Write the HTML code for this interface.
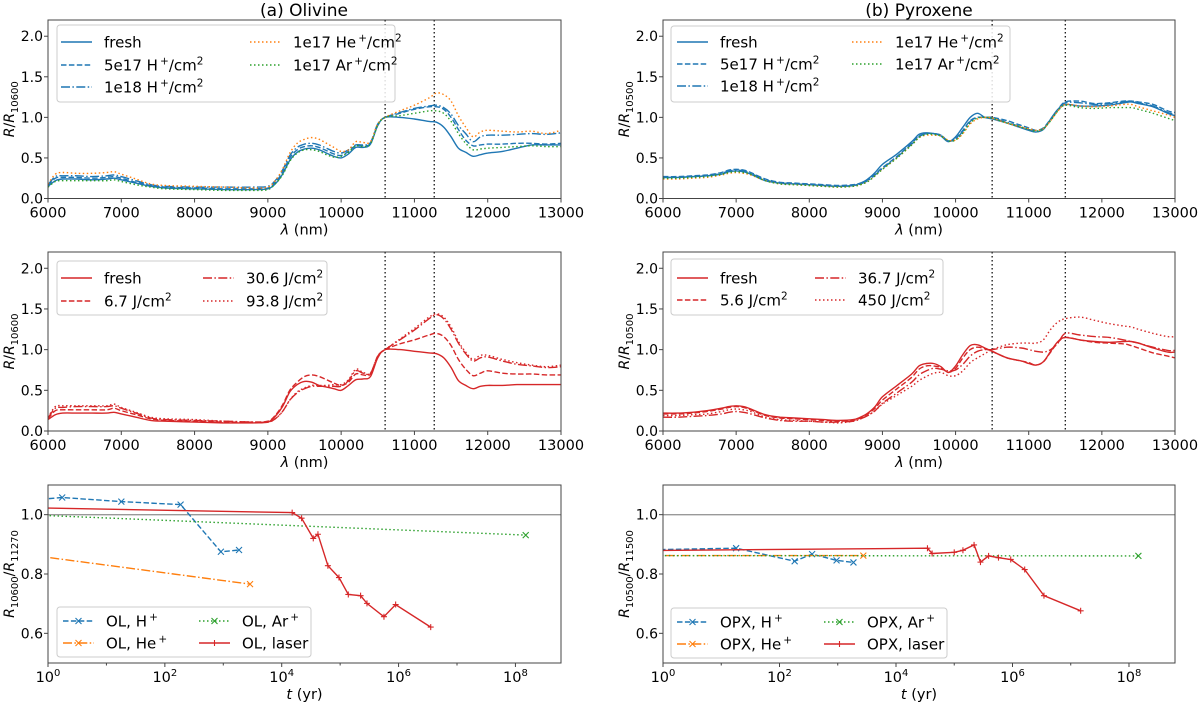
<!DOCTYPE html>
<html><head><meta charset="utf-8">
<style>
html,body{margin:0;padding:0;background:#fff;}
svg{display:block;font-family:"DejaVu Sans","Liberation Sans",sans-serif;}
</style></head>
<body>
<svg id="fig" width="1200" height="706" viewBox="0 0 1200 706" xmlns="http://www.w3.org/2000/svg"></svg>
<script>
// ---------- DATA ----------
const olX=[6000,6100,6200,6400,6600,6800,6900,7000,7200,7400,7600,8000,8400,8800,9000,9100,9200,9300,9400,9500,9600,9700,9800,9900,10000,10100,10200,10300,10400,10500,10600,10800,11000,11200,11300,11400,11500,11600,11700,11800,11900,12000,12200,12400,12600,12800,13000];
const olFresh=[.15,.22,.24,.24,.23,.24,.25,.23,.19,.15,.13,.12,.11,.11,.12,.18,.30,.47,.57,.61,.62,.60,.56,.52,.50,.55,.63,.63,.67,.90,1.0,1.0,.98,.95,.94,.88,.76,.62,.57,.52,.54,.56,.58,.62,.66,.66,.66];
const olH5e17=[.16,.25,.26,.26,.25,.26,.27,.25,.20,.16,.14,.13,.12,.12,.13,.20,.32,.50,.60,.64,.65,.63,.59,.55,.53,.58,.65,.65,.68,.91,1.0,1.05,1.10,1.13,1.13,1.10,1.0,.85,.72,.65,.66,.67,.67,.68,.68,.67,.68];
const olH1e18=[.17,.27,.28,.28,.27,.28,.29,.27,.22,.17,.15,.14,.14,.14,.15,.22,.35,.53,.63,.67,.68,.66,.62,.58,.56,.60,.66,.66,.69,.92,1.0,1.06,1.11,1.14,1.15,1.12,1.04,.90,.80,.70,.76,.78,.78,.79,.80,.79,.81];
const olHe=[.18,.30,.32,.31,.31,.32,.33,.30,.24,.18,.16,.15,.14,.13,.14,.22,.36,.56,.68,.73,.75,.73,.68,.63,.58,.60,.70,.69,.70,.92,1.0,1.08,1.15,1.24,1.30,1.28,1.20,1.02,.88,.76,.82,.84,.83,.82,.83,.80,.84];
const olAr=[.14,.21,.22,.22,.22,.22,.23,.21,.17,.14,.12,.11,.10,.10,.11,.18,.29,.46,.56,.60,.60,.58,.54,.51,.52,.57,.65,.64,.67,.90,1.0,1.02,1.05,1.08,1.08,1.05,.95,.80,.68,.60,.61,.62,.63,.64,.65,.64,.64];
const olLFresh=[.14,.20,.22,.22,.22,.22,.23,.21,.17,.13,.12,.11,.10,.10,.11,.18,.30,.48,.57,.61,.60,.56,.54,.52,.50,.56,.63,.64,.67,.90,1.0,1.0,.98,.96,.95,.90,.78,.62,.56,.52,.55,.56,.56,.57,.57,.57,.57];
const olL67=[.15,.25,.26,.26,.26,.26,.28,.25,.20,.15,.13,.12,.11,.11,.12,.19,.32,.50,.60,.67,.69,.67,.63,.59,.56,.60,.70,.69,.70,.92,1.0,1.07,1.12,1.18,1.20,1.16,1.05,.88,.76,.68,.71,.74,.71,.70,.70,.69,.69];
const olL306=[.16,.28,.29,.30,.30,.30,.31,.28,.22,.16,.14,.13,.12,.11,.11,.15,.24,.38,.47,.52,.55,.55,.55,.55,.55,.62,.74,.71,.71,.92,1.0,1.12,1.24,1.38,1.43,1.38,1.25,1.08,.95,.86,.90,.91,.86,.82,.80,.78,.79];
const olL938=[.17,.30,.31,.31,.31,.31,.33,.29,.23,.17,.15,.14,.12,.11,.11,.15,.24,.38,.48,.53,.56,.56,.56,.57,.57,.63,.76,.72,.71,.92,1.0,1.13,1.26,1.40,1.44,1.40,1.28,1.10,.97,.88,.93,.93,.88,.84,.81,.79,.81];

const pxX=[6000,6200,6400,6600,6800,6900,7000,7100,7200,7400,7600,7800,8000,8200,8400,8600,8700,8800,8900,9000,9200,9400,9500,9600,9700,9800,9900,10000,10100,10200,10300,10400,10500,10700,10900,11000,11100,11200,11300,11400,11500,11700,11900,12100,12300,12400,12500,12700,12900,13000];
const pxFresh=[.26,.26,.27,.28,.30,.33,.34,.33,.30,.22,.19,.18,.17,.16,.15,.16,.19,.24,.32,.42,.55,.70,.79,.81,.80,.77,.70,.76,.88,1.0,1.05,1.0,.98,.93,.87,.84,.82,.85,.98,1.10,1.16,1.14,1.14,1.15,1.18,1.19,1.17,1.13,1.05,1.02];
const pxH5e17=[.27,.27,.28,.29,.32,.35,.36,.35,.32,.24,.20,.19,.18,.17,.16,.17,.19,.23,.30,.38,.52,.68,.77,.80,.80,.78,.71,.74,.84,.96,1.0,1.0,1.0,.96,.90,.87,.84,.87,.98,1.10,1.19,1.20,1.17,1.18,1.20,1.20,1.19,1.16,1.08,1.06];
const pxH1e18=[.26,.26,.27,.28,.31,.34,.35,.34,.31,.23,.19,.18,.17,.16,.15,.16,.18,.22,.29,.37,.51,.67,.76,.80,.80,.78,.71,.73,.83,.95,1.0,1.0,.99,.94,.88,.85,.83,.86,.97,1.09,1.18,1.18,1.16,1.17,1.19,1.20,1.18,1.14,1.06,1.04];
const pxHe=[.24,.24,.25,.26,.29,.31,.32,.31,.29,.22,.18,.17,.16,.15,.14,.15,.17,.21,.28,.36,.50,.66,.75,.78,.78,.77,.72,.72,.80,.92,.98,1.0,.99,.93,.88,.86,.84,.86,.96,1.08,1.16,1.14,1.13,1.14,1.16,1.16,1.13,1.08,1.03,1.0];
const pxAr=[.25,.25,.26,.27,.30,.32,.33,.32,.30,.22,.18,.17,.16,.15,.14,.15,.17,.21,.28,.36,.50,.66,.75,.79,.79,.77,.71,.72,.81,.93,.99,1.0,.99,.93,.88,.85,.83,.86,.96,1.08,1.15,1.12,1.11,1.12,1.12,1.12,1.10,1.05,.99,.96];
const pxLFresh=[.22,.22,.23,.25,.28,.30,.31,.30,.27,.20,.17,.16,.15,.14,.13,.14,.17,.22,.30,.42,.56,.70,.80,.83,.83,.79,.72,.80,.94,1.05,1.06,1.02,.98,.90,.86,.83,.81,.85,.98,1.10,1.15,1.12,1.10,1.09,1.10,1.10,1.08,1.02,.97,.97];
const pxL56=[.21,.21,.22,.24,.27,.29,.30,.29,.26,.19,.16,.15,.14,.13,.12,.13,.16,.21,.28,.38,.52,.66,.76,.80,.80,.78,.72,.77,.90,1.0,1.03,1.01,.98,.90,.86,.84,.81,.85,.97,1.09,1.15,1.12,1.09,1.08,1.07,1.05,1.02,.96,.92,.90];
const pxL367=[.17,.17,.18,.19,.21,.23,.24,.23,.21,.16,.13,.12,.12,.11,.11,.12,.15,.19,.25,.34,.47,.60,.69,.74,.77,.76,.74,.75,.82,.92,.98,1.0,1.0,1.03,1.02,1.0,.98,.97,1.0,1.08,1.20,1.18,1.16,1.15,1.12,1.10,1.08,1.03,.99,.99];
const pxL450=[.19,.19,.20,.21,.24,.26,.27,.26,.24,.17,.14,.13,.12,.11,.10,.12,.15,.19,.25,.33,.44,.55,.62,.67,.71,.72,.68,.68,.74,.84,.90,.95,1.0,1.06,1.08,1.08,1.08,1.12,1.25,1.34,1.38,1.40,1.36,1.32,1.29,1.28,1.25,1.20,1.16,1.16];

// bottom panels: time (yr) and ratio
const olHt=[0.3,1.75,18,186,910,1860];
const olHv=[1.045,1.058,1.044,1.034,0.875,0.881];
const olHet=[0.1,2870];
const olHev=[0.882,0.766];
const olArt=[0.1,1.5e8];
const olArv=[1.005,0.931];
const olLt=[0.1,15100,21900,34700,41700,61700,95500,138000,224000,288000,562000,891000,3550000];
const olLv=[1.026,1.007,0.988,0.920,0.934,0.828,0.788,0.731,0.727,0.701,0.656,0.697,0.621];
const pxHt=[0.1,18,182,363,955,1860];
const pxHv=[0.879,0.887,0.843,0.867,0.846,0.839];
const pxHet=[0.1,2750];
const pxHev=[0.862,0.862];
const pxArt=[0.1,1.45e8];
const pxArv=[0.862,0.861];
const pxLt=[0.1,34700,41700,100000,141000,219000,282000,389000,575000,933000,1620000,3470000,14800000];
const pxLv=[0.878,0.887,0.869,0.873,0.880,0.898,0.840,0.861,0.855,0.849,0.815,0.727,0.676];

const yTicksSpec=[0.0,0.5,1.0,1.5,2.0];
const xTicksSpec=[6000,7000,8000,9000,10000,11000,12000,13000];
const yTicksT=[0.6,0.8,1.0];
const xTicksT=[0,2,4,6,8];

// ---------- DRAW ----------
const NS="http://www.w3.org/2000/svg";
const svg=document.getElementById('fig');
const BLUE="#1f77b4",ORANGE="#ff7f0e",GREEN="#2ca02c",RED="#d62728";
const DASH={solid:"",dashed:"5.5,2.4",dashdot:"9,2.4,1.5,2.4",dotted:"1.5,2.5"};
function mk(tag,attrs,parent){const e=document.createElementNS(NS,tag);for(const k in attrs)e.setAttribute(k,attrs[k]);(parent||svg).appendChild(e);return e;}
function smoothPath(pts){let d="M"+pts[0][0].toFixed(1)+","+pts[0][1].toFixed(1);
 for(let i=0;i<pts.length-1;i++){const p0=pts[i-1]||pts[i],p1=pts[i],p2=pts[i+1],p3=pts[i+2]||p2;
  const c1x=p1[0]+(p2[0]-p0[0])/6,c1y=p1[1]+(p2[1]-p0[1])/6,c2x=p2[0]-(p3[0]-p1[0])/6,c2y=p2[1]-(p3[1]-p1[1])/6;
  d+=" C"+c1x.toFixed(1)+","+c1y.toFixed(1)+" "+c2x.toFixed(1)+","+c2y.toFixed(1)+" "+p2[0].toFixed(1)+","+p2[1].toFixed(1);}
 return d;}
function linPath(pts){return pts.map((p,i)=>(i?"L":"M")+p[0].toFixed(1)+","+p[1].toFixed(1)).join(" ");}

function yLabel(parent,cx,cy,parts){
 const g=mk('g',{transform:`translate(${cx} ${cy}) rotate(-90)`},parent);
 
 
 let x=0;const els=[];
 parts.forEach(p=>{const t=mk('text',{x:x,y:p.sub?4:0,'font-size':p.sub?10:14,'font-style':p.it?'italic':'normal'},g);
  t.textContent=p.t;x+=t.getComputedTextLength();els.push(t);});
 const off=-x/2;
 els.forEach(t=>t.setAttribute('x',parseFloat(t.getAttribute('x'))+off));
}

let clipN=0;
function panel(o){
 const g=mk('g',{});
 
 
 const sx=v=>o.x0+(v-o.xmin)/(o.xmax-o.xmin)*(o.x1-o.x0);
 const sy=v=>o.y1-(v-o.ymin)/(o.ymax-o.ymin)*(o.y1-o.y0);
 const cid="clip"+(clipN++);
 const cp=mk('clipPath',{id:cid},g);mk('rect',{x:o.x0,y:o.y0,width:o.x1-o.x0,height:o.y1-o.y0},cp);
 const plot=mk('g',{'clip-path':'url(#'+cid+')'},g);
 if(o.vlines)o.vlines.forEach(v=>{const l=mk('line',{x1:sx(v),x2:sx(v),y1:o.y0,y2:o.y1,stroke:'#000','stroke-width':1.2,'stroke-dasharray':'1.5,2.5'},plot);
  
  });
 if(o.hline!==undefined){const l=mk('line',{x1:o.x0,x2:o.x1,y1:sy(o.hline),y2:sy(o.hline),stroke:'#999','stroke-width':1.3},plot);
  
  }
 o.series.forEach(s=>{
  const pts=s.x.map((xv,i)=>[sx(o.log?Math.log10(xv):xv),sy(s.y[i])]);
  const p=mk('path',{d:o.log?linPath(pts):smoothPath(pts),fill:'none',stroke:s.c,'stroke-width':1.4,'stroke-dasharray':DASH[s.d]},plot);
  
  
  if(s.m){pts.forEach((q,i)=>{if(o.log&&i===0)return;const r=3;
   const m=mk('path',{d:s.m==='x'?`M${q[0]-r},${q[1]-r}L${q[0]+r},${q[1]+r}M${q[0]-r},${q[1]+r}L${q[0]+r},${q[1]-r}`:`M${q[0]-r},${q[1]}L${q[0]+r},${q[1]}M${q[0]},${q[1]-r}L${q[0]},${q[1]+r}`,stroke:s.c,'stroke-width':1.1,fill:'none'},plot);
   
   });}
 });
 const fr=mk('rect',{x:o.x0,y:o.y0,width:o.x1-o.x0,height:o.y1-o.y0,fill:'none',stroke:'#444','stroke-width':1},g);
 
 
 o.yt.forEach(v=>{const y=sy(v);mk('line',{x1:o.x0-4,x2:o.x0,y1:y,y2:y,stroke:'#444'},g);
  const t=mk('text',{x:o.x0-5,y:y+5,'text-anchor':'end','font-size':14},g);t.textContent=v.toFixed(1);
  
  });
 o.xt.forEach(v=>{const x=sx(v);mk('line',{x1:x,x2:x,y1:o.y1,y2:o.y1+4,stroke:'#444'},g);
  const t=mk('text',{x:x,y:o.y1+19,'text-anchor':'middle','font-size':14.5},g);
  if(o.log){t.innerHTML='10<tspan font-size="10" baseline-shift="6">'+v+'</tspan>';}else t.textContent=v;
  
  });
 if(o.log){for(let k=Math.ceil(o.xmin);k<=o.xmax;k++){if(k%2){const x=sx(k);mk('line',{x1:x,x2:x,y1:o.y1,y2:o.y1+2.5,stroke:'#444'},g);}}}
 const xl=mk('text',{x:(o.x0+o.x1)/2,y:o.y1+36,'text-anchor':'middle','font-size':14.5},g);
 xl.innerHTML=o.xlabel;
 
 
 yLabel(g,o.ylx,(o.y0+o.y1)/2,o.ylabel);
 // legend
 const L=o.leg;
 const lg=mk('g',{},g);
 
 
 mk('rect',{x:L.x,y:L.y,width:L.w,height:L.h,rx:3,fill:'#fff','fill-opacity':0.85,stroke:'#ccc'},lg);
 L.items.forEach(it=>{
  const s=o.series[it.s];
  mk('line',{x1:it.lx,x2:it.lx+31,y1:it.y,y2:it.y,stroke:s.c,'stroke-width':1.4,'stroke-dasharray':DASH[s.d]},lg);
  if(s.m){const q=[it.lx+15.5,it.y],r=3;mk('path',{d:s.m==='x'?`M${q[0]-r},${q[1]-r}L${q[0]+r},${q[1]+r}M${q[0]-r},${q[1]+r}L${q[0]+r},${q[1]-r}`:`M${q[0]-r},${q[1]}L${q[0]+r},${q[1]}M${q[0]},${q[1]-r}L${q[0]},${q[1]+r}`,stroke:s.c,'stroke-width':1.1},lg);}
  const t=mk('text',{x:it.lx+43,y:it.y+5.5,'font-size':15},lg);t.innerHTML=it.t;
  
  
 });
}
const SUP=(s)=>'<tspan font-size="10.5" baseline-shift="6">'+s+'</tspan>';
const ionLbl=(n,ion)=>n+' '+ion+SUP('\u2009+')+'/cm'+SUP('2');
const JL=(n)=>n+' J/cm'+SUP('2');
const lamLbl='<tspan font-style="italic">λ</tspan> (nm)';
const tLbl='<tspan font-style="italic">t</tspan> (yr)';
const RR=(a)=>[{t:'R',it:1},{t:'/'},{t:'R',it:1},{t:a,sub:1}];
const RRR=(a,b)=>[{t:'R',it:1},{t:a,sub:1},{t:'/'},{t:'R',it:1},{t:b,sub:1}];

const LX=14, RX=629;
// Panel (a) top
panel({name:'olivine-ion-panel',x0:48,x1:561,y0:20,y1:198.5,xmin:6000,xmax:13000,ymin:0,ymax:2.2,yt:yTicksSpec,xt:xTicksSpec,
 xlabel:lamLbl,ylabel:RR('10600'),ylx:LX,vlines:[10600,11270],
 series:[{id:'ol-fresh',x:olX,y:olFresh,c:BLUE,d:'solid'},{id:'ol-5e17-h',x:olX,y:olH5e17,c:BLUE,d:'dashed'},{id:'ol-1e18-h',x:olX,y:olH1e18,c:BLUE,d:'dashdot'},{id:'ol-1e17-he',x:olX,y:olHe,c:ORANGE,d:'dotted'},{id:'ol-1e17-ar',x:olX,y:olAr,c:GREEN,d:'dotted'}],
 leg:{x:57,y:25,w:338,h:77,items:[{s:0,lx:61,y:42,t:'fresh'},{s:1,lx:61,y:65,t:ionLbl('5e17','H')},{s:2,lx:61,y:87,t:ionLbl('1e18','H')},{s:3,lx:250,y:42,t:ionLbl('1e17','He')},{s:4,lx:250,y:65,t:ionLbl('1e17','Ar')}]}});
// Panel (a) middle
panel({name:'olivine-laser-panel',x0:48,x1:561,y0:252,y1:431,xmin:6000,xmax:13000,ymin:0,ymax:2.2,yt:yTicksSpec,xt:xTicksSpec,
 xlabel:lamLbl,ylabel:RR('10600'),ylx:LX,vlines:[10600,11270],
 series:[{id:'ol-laser-fresh',x:olX,y:olLFresh,c:RED,d:'solid'},{id:'ol-6.7j',x:olX,y:olL67,c:RED,d:'dashed'},{id:'ol-30.6j',x:olX,y:olL306,c:RED,d:'dashdot'},{id:'ol-93.8j',x:olX,y:olL938,c:RED,d:'dotted'}],
 leg:{x:57,y:261,w:270,h:54,items:[{s:0,lx:61,y:278,t:'fresh'},{s:1,lx:61,y:301,t:JL('6.7')},{s:2,lx:203,y:278,t:JL('30.6')},{s:3,lx:203,y:301,t:JL('93.8')}]}});
// Panel (b) top
panel({name:'pyroxene-ion-panel',x0:663,x1:1175,y0:20,y1:198.5,xmin:6000,xmax:13000,ymin:0,ymax:2.2,yt:yTicksSpec,xt:xTicksSpec,
 xlabel:lamLbl,ylabel:RR('10500'),ylx:RX,vlines:[10500,11500],
 series:[{id:'px-fresh',x:pxX,y:pxFresh,c:BLUE,d:'solid'},{id:'px-5e17-h',x:pxX,y:pxH5e17,c:BLUE,d:'dashed'},{id:'px-1e18-h',x:pxX,y:pxH1e18,c:BLUE,d:'dashdot'},{id:'px-1e17-he',x:pxX,y:pxHe,c:ORANGE,d:'dotted'},{id:'px-1e17-ar',x:pxX,y:pxAr,c:GREEN,d:'dotted'}],
 leg:{x:671,y:26,w:339,h:76,items:[{s:0,lx:677,y:42,t:'fresh'},{s:1,lx:677,y:64,t:ionLbl('5e17','H')},{s:2,lx:677,y:86,t:ionLbl('1e18','H')},{s:3,lx:852,y:42,t:ionLbl('1e17','He')},{s:4,lx:852,y:64,t:ionLbl('1e17','Ar')}]}});
// Panel (b) middle
panel({name:'pyroxene-laser-panel',x0:663,x1:1175,y0:252,y1:431,xmin:6000,xmax:13000,ymin:0,ymax:2.2,yt:yTicksSpec,xt:xTicksSpec,
 xlabel:lamLbl,ylabel:RR('10500'),ylx:RX,vlines:[10500,11500],
 series:[{id:'px-laser-fresh',x:pxX,y:pxLFresh,c:RED,d:'solid'},{id:'px-5.6j',x:pxX,y:pxL56,c:RED,d:'dashed'},{id:'px-36.7j',x:pxX,y:pxL367,c:RED,d:'dashdot'},{id:'px-450j',x:pxX,y:pxL450,c:RED,d:'dotted'}],
 leg:{x:671,y:259,w:272,h:56,items:[{s:0,lx:677,y:278,t:'fresh'},{s:1,lx:677,y:300,t:JL('5.6')},{s:2,lx:815,y:278,t:JL('36.7')},{s:3,lx:815,y:300,t:JL('450')}]}});
// Panel (a) bottom
panel({name:'olivine-timescale-panel',log:true,x0:48,x1:561,y0:485,y1:663,xmin:0,xmax:8.78,ymin:0.5,ymax:1.1,yt:yTicksT,xt:xTicksT,hline:1.0,
 xlabel:tLbl,ylabel:RRR('10600','11270'),ylx:LX,
 series:[{id:'ol-h',x:olHt,y:olHv,c:BLUE,d:'dashed',m:'x'},{id:'ol-he',x:olHet,y:olHev,c:ORANGE,d:'dashdot',m:'x'},{id:'ol-ar',x:olArt,y:olArv,c:GREEN,d:'dotted',m:'x'},{id:'ol-laser',x:olLt,y:olLv,c:RED,d:'solid',m:'+'}],
 leg:{x:57,y:607,w:254,h:50,items:[{s:0,lx:63,y:621,t:'OL, H'+SUP('\u2009+')},{s:1,lx:63,y:643,t:'OL, He'+SUP('\u2009+')},{s:2,lx:199,y:621,t:'OL, Ar'+SUP('\u2009+')},{s:3,lx:199,y:643,t:'OL, laser'}]}});
// Panel (b) bottom
panel({name:'pyroxene-timescale-panel',log:true,x0:663,x1:1175,y0:485,y1:663,xmin:0,xmax:8.79,ymin:0.5,ymax:1.1,yt:yTicksT,xt:xTicksT,hline:1.0,
 xlabel:tLbl,ylabel:RRR('10500','11500'),ylx:RX,
 series:[{id:'px-h',x:pxHt,y:pxHv,c:BLUE,d:'dashed',m:'x'},{id:'px-he',x:pxHet,y:pxHev,c:ORANGE,d:'dashdot',m:'x'},{id:'px-ar',x:pxArt,y:pxArv,c:GREEN,d:'dotted',m:'x'},{id:'px-laser',x:pxLt,y:pxLv,c:RED,d:'solid',m:'+'}],
 leg:{x:671,y:608,w:276,h:50,items:[{s:0,lx:677,y:622,t:'OPX, H'+SUP('\u2009+')},{s:1,lx:677,y:644,t:'OPX, He'+SUP('\u2009+')},{s:2,lx:824,y:622,t:'OPX, Ar'+SUP('\u2009+')},{s:3,lx:824,y:644,t:'OPX, laser'}]}});

// titles
const t1=mk('text',{x:304,y:16,'text-anchor':'middle','font-size':17});t1.textContent='(a) Olivine';


const t2=mk('text',{x:919,y:16,'text-anchor':'middle','font-size':17});t2.textContent='(b) Pyroxene';


</script>
</body></html>
